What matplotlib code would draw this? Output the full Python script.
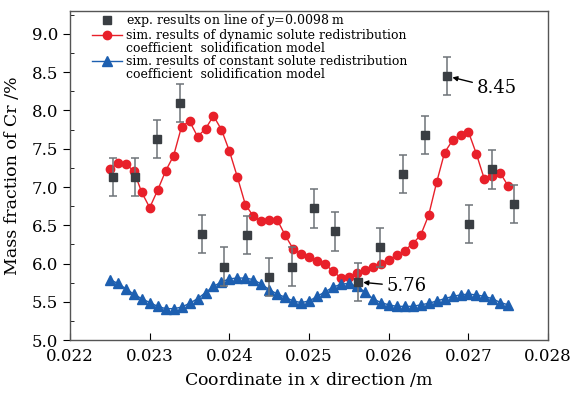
import matplotlib.pyplot as plt
from matplotlib.lines import Line2D
from matplotlib.ticker import MultipleLocator

plt.rcParams['font.family'] = ['DejaVu Serif']
plt.rcParams['mathtext.fontset'] = 'dejavuserif'

# dynamic model (red circles)
x_sim = [0.0225 + i * 0.0001 for i in range(51)]
y_dyn = [7.23, 7.31, 7.30, 7.21, 6.93, 6.73, 6.96, 7.21, 7.41, 7.79,
         7.86, 7.66, 7.76, 7.93, 7.75, 7.47, 7.13, 6.77, 6.62, 6.55,
         6.57, 6.57, 6.37, 6.19, 6.13, 6.08, 6.03, 5.99, 5.90, 5.81,
         5.83, 5.87, 5.92, 5.96, 6.00, 6.05, 6.11, 6.17, 6.26, 6.37,
         6.63, 7.06, 7.45, 7.61, 7.68, 7.72, 7.43, 7.10, 7.14, 7.18,
         7.01]
# constant model (blue triangles)
y_const = [5.79, 5.74, 5.67, 5.60, 5.54, 5.49, 5.44, 5.41, 5.41, 5.43,
           5.48, 5.54, 5.62, 5.70, 5.76, 5.80, 5.81, 5.81, 5.79, 5.73,
           5.66, 5.60, 5.56, 5.51, 5.49, 5.51, 5.57, 5.63, 5.69, 5.73,
           5.74, 5.70, 5.63, 5.54, 5.49, 5.46, 5.44, 5.44, 5.44, 5.46,
           5.48, 5.51, 5.54, 5.57, 5.59, 5.60, 5.59, 5.57, 5.54, 5.49,
           5.46]

# experiment
x_exp = [0.02254, 0.02281, 0.02309, 0.02338, 0.02365, 0.02393, 0.02422,
         0.02450, 0.02478, 0.02506, 0.02533, 0.02561, 0.02589, 0.02618,
         0.02646, 0.02673, 0.02701, 0.02729, 0.02757]
y_exp = [7.13, 7.13, 7.63, 8.10, 6.39, 5.96, 6.37, 5.82, 5.96, 6.72,
         6.42, 5.76, 6.21, 7.17, 7.68, 8.45, 6.52, 7.23, 6.78]
err_exp = [0.25] * 19

red = '#e8202a'
blue = '#1d5fb0'
dark = '#3a3e43'

fig = plt.figure(figsize=(5.74, 3.94), dpi=100)
ax = fig.add_axes([0.122, 0.137, 0.833, 0.835])

ax.plot(x_sim, y_dyn, '-o', color=red, lw=1.0, ms=6, mec=red, zorder=3)
ax.plot(x_sim, y_const, '-^', color=blue, lw=1.0, ms=6.5, mec=blue, zorder=3)
ax.errorbar(x_exp, y_exp, yerr=err_exp, fmt='s', color=dark, ms=5.5,
            ecolor='#6e7378', elinewidth=1.1, capsize=3, capthick=1.1, zorder=4)

# labelled points
ax.annotate('8.45', xy=(x_exp[15], y_exp[15]), xytext=(0.02710, 8.29),
            fontsize=13, va='center',
            arrowprops=dict(arrowstyle='-|>', color='black', lw=1,
                            mutation_scale=7, shrinkA=1, shrinkB=4))
ax.annotate('5.76', xy=(x_exp[11], y_exp[11]), xytext=(0.02597, 5.70),
            fontsize=13, va='center',
            arrowprops=dict(arrowstyle='-|>', color='black', lw=1,
                            mutation_scale=7, shrinkA=1, shrinkB=4))

ax.set_xlim(0.022, 0.028)
ax.set_ylim(5.0, 9.3)
ax.yaxis.set_minor_locator(MultipleLocator(0.25))
ax.set_xticks([0.022, 0.023, 0.024, 0.025, 0.026, 0.027, 0.028])
ax.set_xticklabels(['0.022', '0.023', '0.024', '0.025', '0.026', '0.027', '0.028'])
ax.set_yticks([5.0, 5.5, 6.0, 6.5, 7.0, 7.5, 8.0, 8.5, 9.0])
ax.set_yticklabels(['5.0', '5.5', '6.0', '6.5', '7.0', '7.5', '8.0', '8.5', '9.0'])
ax.tick_params(axis='x', direction='in', length=5, labelsize=12, pad=6)
ax.tick_params(axis='y', which='major', direction='out', length=5, labelsize=12)
ax.tick_params(axis='y', which='minor', direction='in', length=3)
for s in ax.spines.values():
    s.set_color('#555555')
    s.set_linewidth(1.0)

ax.set_xlabel('Coordinate in $x$ direction /m', fontsize=12.5, labelpad=3)
ax.set_ylabel('Mass fraction of Cr /%', fontsize=12.5, labelpad=8)

blank = Line2D([], [], linestyle='none')
handles = [
    Line2D([], [], linestyle='none', marker='s', color=dark, ms=5.5),
    Line2D([], [], color=red, marker='o', lw=1.0, ms=6),
    blank,
    Line2D([], [], color=blue, marker='^', lw=1.0, ms=6.5),
    blank,
]
labels = [
    'exp. results on line of $y$=0.0098 m',
    'sim. results of dynamic solute redistribution',
    'coefficient  solidification model',
    'sim. results of constant solute redistribution',
    'coefficient  solidification model',
]
ax.legend(handles, labels, loc='upper left', bbox_to_anchor=(0.03, 1.02),
          frameon=False, fontsize=9, labelspacing=0.0, handlelength=2.4,
          handletextpad=0.3, borderaxespad=0.2)

fig.savefig('out.png', dpi=100)
